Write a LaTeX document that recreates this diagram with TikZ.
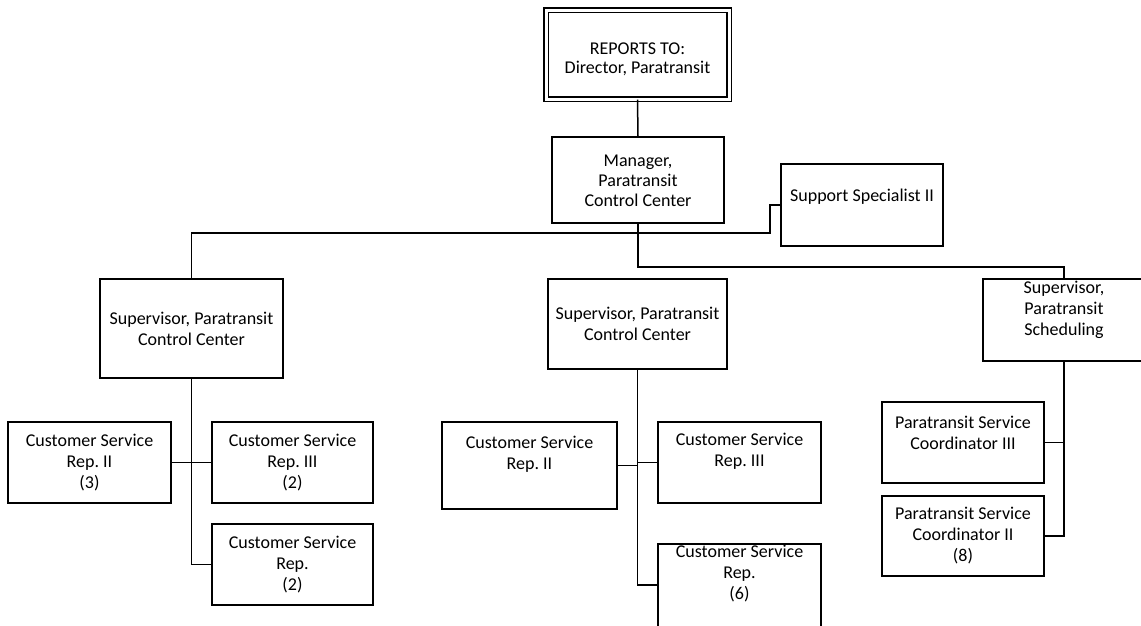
\documentclass[tikz,border=0pt]{standalone}
\usepackage{fontspec}
\setmainfont{Carlito}
\frenchspacing
\begin{document}
\begin{tikzpicture}[x=1pt,y=-1pt,
  box/.style={draw, line width=1.5pt, rectangle, inner sep=0pt},
  dbox/.style={draw, line width=1.4pt, double, double distance=3pt, rectangle, inner sep=0pt},
  txt/.style={align=center, font=\fontsize{18}{21}\selectfont, inner sep=0pt},
  link/.style={line width=1.5pt}]
\useasboundingbox (0,0) rectangle (1141,625);

% top level
\node[dbox, minimum width=183pt, minimum height=89pt] (top) at (637.5,54.5) {};
\node[txt, font=\fontsize{18}{18.5}\selectfont] (top-t) at (637.5,59.5) {REPORTS TO:\\Director, Paratransit};

\node[box, minimum width=172pt, minimum height=86pt] (mgr) at (638,180) {};
\node[txt, font=\fontsize{18}{20}\selectfont] (mgr-t) at (638,181) {Manager,\\Paratransit\\Control Center};

\node[box, minimum width=162pt, minimum height=82pt] (sup) at (862,205) {};
\node[txt] (sup-t) at (862,197) {Support Specialist II};

% supervisors
\node[box, minimum width=183pt, minimum height=99pt] (supL) at (191.5,328.5) {};
\node[txt] (supL-t) at (191.5,329) {Supervisor, Paratransit\\Control Center};

\node[box, minimum width=179pt, minimum height=90pt] (supM) at (637.5,324) {};
\node[txt] (supM-t) at (637.5,324) {Supervisor, Paratransit\\Control Center};

\node[box, minimum width=162pt, minimum height=82pt] (supS) at (1064,320) {};
\node[txt] (supS-t) at (1064,310) {Supervisor,\\Paratransit\\Scheduling};

% left branch
\node[box, minimum width=163pt, minimum height=81pt] (csrL2) at (89.5,462.5) {};
\node[txt] (csrL2-t) at (89.5,462.5) {Customer Service\\Rep. II\\(3)};
\node[box, minimum width=161pt, minimum height=81pt] (csrL3) at (292.5,462.5) {};
\node[txt] (csrL3-t) at (292.5,462.5) {Customer Service\\Rep. III\\(2)};
\node[box, minimum width=161pt, minimum height=81pt] (csrL) at (292.5,564.5) {};
\node[txt] (csrL-t) at (292.5,565) {Customer Service\\Rep.\\(2)};

% middle branch
\node[box, minimum width=175pt, minimum height=87pt] (csrM2) at (529.5,465.5) {};
\node[txt] (csrM2-t) at (529.5,454) {Customer Service\\Rep. II};
\node[box, minimum width=163pt, minimum height=81pt] (csrM3) at (739.5,462.5) {};
\node[txt] (csrM3-t) at (739.5,451) {Customer Service\\Rep. III};
\node[box, minimum width=163pt, minimum height=100pt] (csrM) at (739.5,594) {};
\node[txt] (csrM-t) at (739.5,574) {Customer Service\\Rep.\\(6)};

% right branch
\node[box, minimum width=162pt, minimum height=81pt] (crd3) at (963,442.5) {};
\node[txt] (crd3-t) at (963,432.5) {Paratransit Service\\Coordinator III};
\node[box, minimum width=162pt, minimum height=80pt] (crd2) at (963,536) {};
\node[txt] (crd2-t) at (963,536) {Paratransit Service\\Coordinator II\\(8)};

% connectors
\coordinate (jL) at (770,233);
\coordinate (jR) at (638,267);
\coordinate (yM) at (0,585);
\draw[link] (top.south) -- (mgr.north);
\draw[link] (mgr.south) -- (jR) -| (supS.north);
\draw[link] (supL.north) |- (jL) |- (sup.west);

\draw[link] (supL.south) |- (csrL.west);
\draw[link] (csrL2.east) -- (csrL3.west);

\draw[link] (supM.south) |- (csrM.west |- yM);
\draw[link] (csrM2.east) -- (csrM2.east -| supM.south);
\draw[link] (csrM3.west) -- (csrM3.west -| supM.south);

\draw[link] (supS.south) |- (crd2.east);
\draw[link] (crd3.east) -- (crd3.east -| supS.south);
\end{tikzpicture}
\end{document}
